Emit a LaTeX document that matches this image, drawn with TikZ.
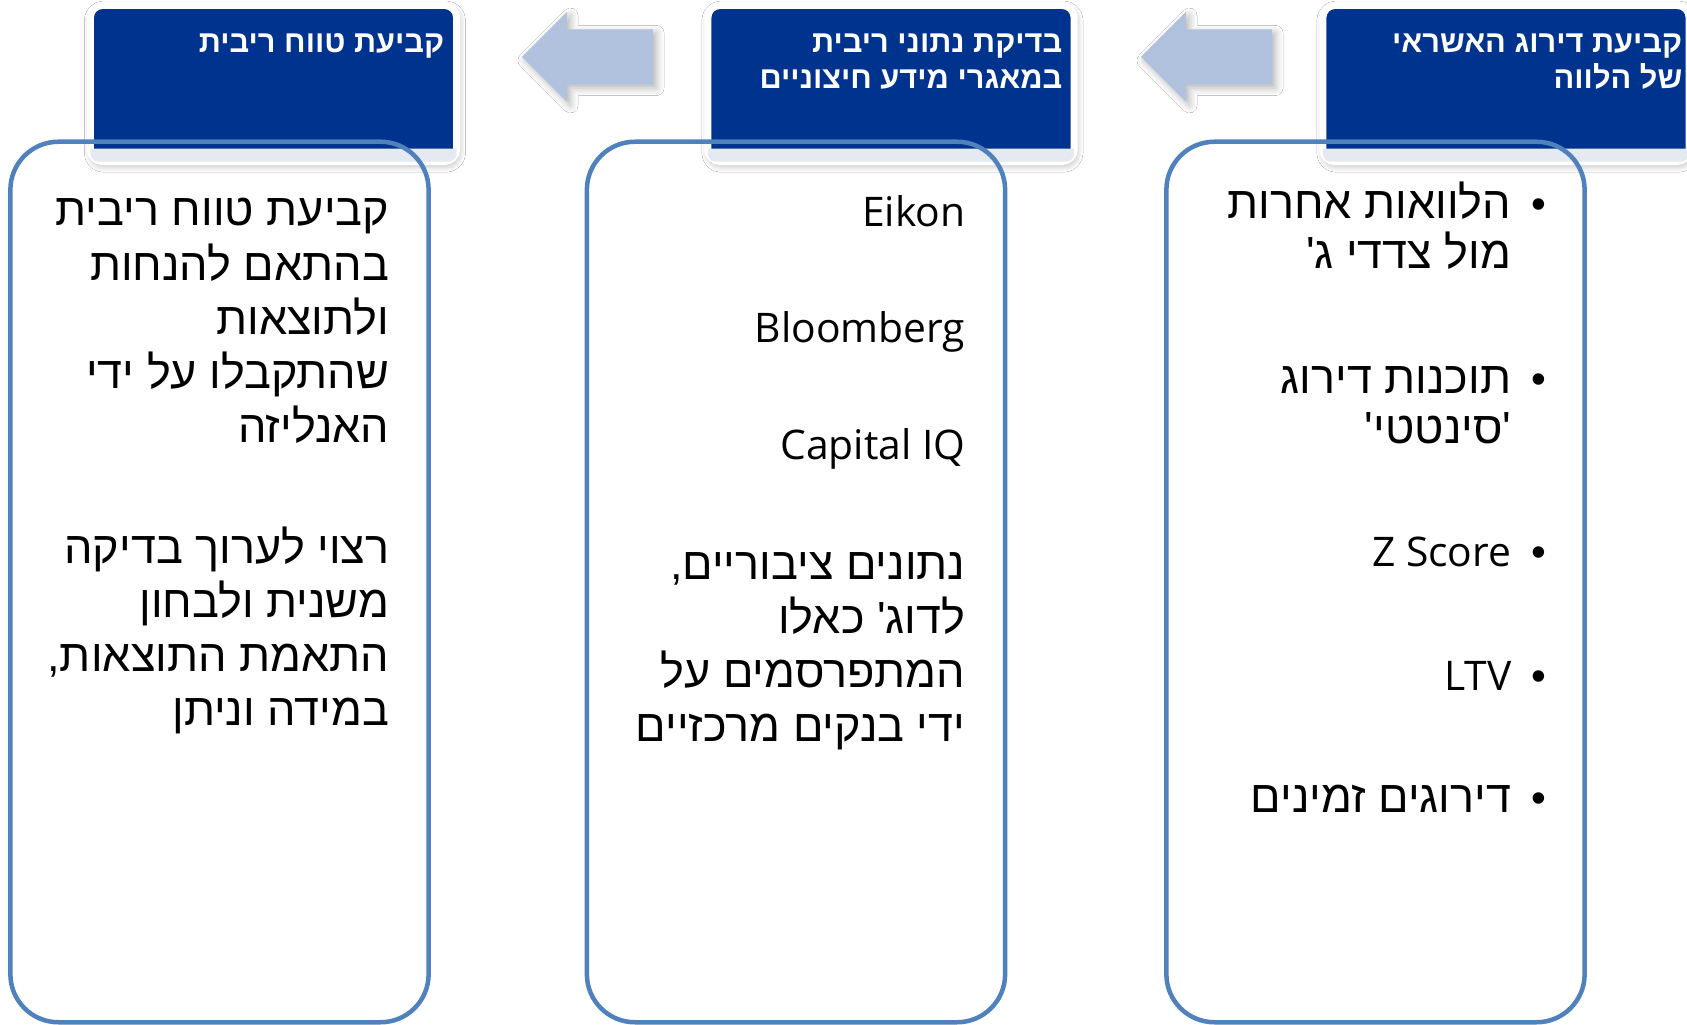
\documentclass[tikz,border=0pt]{standalone}
\usepackage{fontspec}
\setmainfont{Open Sans}
\newfontfamily\hebfont[Script=Hebrew,Ligatures=TeXOff]{Liberation Sans}
\TeXXeTstate=1
\usetikzlibrary{shadows.blur}
\newcommand{\hebline}[1]{\beginR#1\endR}
\definecolor{hdr_blue}{RGB}{0,51,141}
\definecolor{hdr_band}{RGB}{228,233,242}
\definecolor{panel_blue}{RGB}{79,129,189}
\definecolor{arrow_blue}{RGB}{176,194,221}
\tikzstyle{hdr}=[rectangle,rounded corners=0.12cm,fill=hdr_blue,draw=white,
  line width=0.07cm,minimum width=3.66cm,minimum height=1.56cm,
  blur shadow={shadow xshift=0.4pt,shadow yshift=-0.9pt,shadow opacity=35,shadow blur steps=6}]
\tikzstyle{hdrtext}=[text=white,font=\hebfont\bfseries\fontsize{8.75}{10.4}\selectfont,
  align=right,inner sep=0pt,anchor=base east]
\tikzstyle{panel}=[rectangle,rounded corners=0.48cm,draw=panel_blue,line width=0.045cm,
  minimum width=4.18cm,minimum height=8.8cm]
\tikzstyle{hebtext}=[font=\hebfont\fontsize{12.8}{15.4}\selectfont,align=right,
  inner sep=0pt,anchor=base east]
\tikzstyle{lattext}=[font=\fontsize{11.6}{15.4}\selectfont,inner sep=0pt,anchor=base east]
\tikzstyle{bul}=[font=\hebfont\fontsize{12}{15.4}\selectfont,inner sep=0pt,anchor=base]
\tikzstyle{flow}=[fill=arrow_blue,
  blur shadow={shadow xshift=1pt,shadow yshift=-1pt,shadow opacity=30,shadow blur steps=5}]
\begin{document}
\begin{tikzpicture}[x=0.01cm,y=-0.01cm]
    \useasboundingbox (0,0) rectangle (1687,1025);
    \fill[white] (0,0) rectangle (1687,1025);
    % header boxes
    \node[hdr] (h1) at (273.5,83.5) {};
    \node[hdr] (h2) at (891,83.5) {};
    \node[hdr] (h3) at (1506,83.5) {};
    \foreach \n in {h1,h2,h3}
      \fill[hdr_band] ([shift={(0.035cm,0.165cm)}]\n.south west)
        {[rounded corners=0.08cm] -- ([shift={(0.035cm,0.035cm)}]\n.south west)
        -- ([shift={(-0.035cm,0.035cm)}]\n.south east)}
        -- ([shift={(-0.035cm,0.165cm)}]\n.south east) -- cycle;
    % base anchor = last line
    \node[hdrtext] (h1t) at (445,53) {\hebline{קביעת טווח ריבית}};
    \node[hdrtext] (h2t) at (1063,89) {\hebline{בדיקת נתוני ריבית}\\\hebline{במאגרי מידע חיצוניים}};
    \node[hdrtext] (h3t) at (1683,89) {\hebline{קביעת דירוג האשראי}\\\hebline{של הלווה}};
    % arrows between the steps
    \foreach \dx in {0,619}
      \fill[flow,shift={(\dx,0)}] (522,57) -- (567,12) -- (567,29.5) -- (653,29.5)
        -- (653,84.5) -- (567,84.5) -- (567,102) -- cycle;
    % panels
    \node[panel] (p1) at (219.5,582) {};
    \node[panel] (p2) at (796,582) {};
    \node[panel] (p3) at (1375.5,582) {};
    % left panel
    \node[hebtext] (l1) at (390,442.5) {\hebline{קביעת טווח ריבית}\\\hebline{בהתאם להנחות}\\
      \hebline{ולתוצאות}\\\hebline{שהתקבלו על ידי}\\\hebline{האנליזה}};
    \node[hebtext] (l2) at (390,725.5) {\hebline{רצוי לערוך בדיקה}\\\hebline{משנית ולבחון}\\
      \hebline{התאמת התוצאות,}\\\hebline{במידה וניתן}};
    % middle panel
    \node[lattext] (m1) at (966,227) {Eikon};
    \node[lattext] (m2) at (966,343) {Bloomberg};
    \node[lattext] (m3) at (966,460) {Capital IQ};
    \node[hebtext] (m4) at (966,742) {\hebline{נתונים ציבוריים,}\\\hebline{לדוג' כאלו}\\
      \hebline{המתפרסמים על}\\\hebline{ידי בנקים מרכזיים}};
    % right panel
    \node[hebtext,font=\hebfont\fontsize{12.8}{14.2}\selectfont] (r1) at (1512,268.4)
      {\hebline{הלוואות אחרות}\\\hebline{מול צדדי ג'}};
    \node[hebtext,font=\hebfont\fontsize{12.8}{14.2}\selectfont] (r2) at (1512,443.4)
      {\hebline{תוכנות דירוג}\\\hebline{'סינטטי'}};
    \node[lattext] (r3) at (1512,566.5) {Z Score};
    \node[lattext] (r4) at (1512,690.5) {LTV};
    \node[hebtext] (r5) at (1512,812.5) {\hebline{דירוגים זמינים}};
    \foreach \y [count=\i] in {218.5,393.5,566.5,690.5,812.5}
      \node[bul] (b\i) at (1539,\y) {\textbullet};
\end{tikzpicture}
\end{document}
